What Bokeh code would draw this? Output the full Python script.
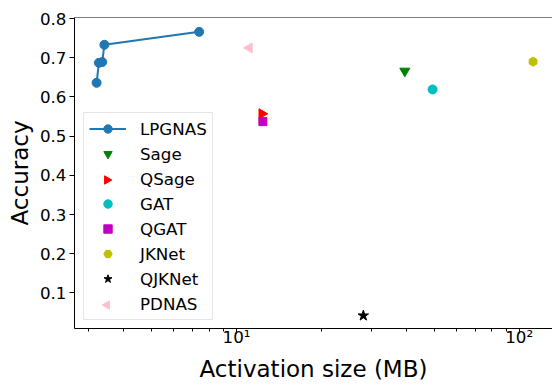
import math
from bokeh.plotting import figure
from bokeh.models import (Range1d, FixedTicker, CustomJSTickFormatter, Legend,
                          LegendItem, Span, ColumnDataSource, LinearScale)
from bokeh.embed import file_html
from bokeh.resources import INLINE

# ---- data ----
lpg_x = [3.20, 3.26, 3.35, 3.41, 7.38]
lpg_y = [0.636, 0.687, 0.689, 0.733, 0.766]

names = ["Sage", "QSage", "GAT", "QGAT", "JKNet", "QJKNet", "PDNAS"]
size_mb = [39.4, 12.3, 49.4, 12.4, 112.0, 28.1, 11.1]
accuracy = [0.666, 0.557, 0.619, 0.537, 0.690, 0.042, 0.725]

x_ticks = [10, 100]
x_minor = [3, 4, 5, 6, 7, 8, 9, 20, 30, 40, 50, 60, 70, 80, 90]
y_ticks = [0.1, 0.2, 0.3, 0.4, 0.5, 0.6, 0.7, 0.8]

# marker styles (matplotlib-like)
styles = {
    "Sage":   dict(marker="inverted_triangle", color="#008000", size=10, angle=0.0),
    "QSage":  dict(marker="triangle", color="#ff0000", size=10, angle=-math.pi / 2),
    "GAT":    dict(marker="circle", color="#00bfbf", size=9, angle=0.0),
    "QGAT":   dict(marker="square", color="#bf00bf", size=8, angle=0.0),
    "JKNet":  dict(marker="hex", color="#bfbf00", size=9, angle=math.pi / 2),
    "QJKNet": dict(marker="star", color="#000000", size=11, angle=0.0),
    "PDNAS":  dict(marker="triangle", color="#ffc0cb", size=10, angle=math.pi / 2),
}

FONT = "DejaVu Sans"
FRAME_W, FRAME_H = 478, 311

p = figure(width=552, height=384, output_backend="svg", toolbar_location=None,
           x_axis_type="log",
           x_range=Range1d(2.673, 131.2), y_range=Range1d(0.0092, 0.8026),
           min_border_left=74, min_border_right=0, min_border_top=17,
           min_border_bottom=56)
p.outline_line_color = None
p.background_fill_color = "white"
p.border_fill_color = "white"
p.grid.visible = False

# pixel-space ranges for the legend symbols that Bokeh's legend cannot rotate
p.extra_x_ranges = {"px": Range1d(0, FRAME_W)}
p.extra_y_ranges = {"px": Range1d(0, FRAME_H)}
p.extra_x_scales = {"px": LinearScale()}
p.extra_y_scales = {"px": LinearScale()}

# top spine
p.add_layout(Span(location=0.8026, dimension="width", line_color="black",
                  line_width=1))

# axes
xa = p.xaxis[0]
xa.ticker = FixedTicker(ticks=x_ticks, minor_ticks=x_minor)
xa.formatter = CustomJSTickFormatter(code="""
    const sup = {"0":"\u2070","1":"\u00b9","2":"\u00b2","3":"\u00b3","4":"\u2074",
                 "5":"\u2075","6":"\u2076","7":"\u2077","8":"\u2078","9":"\u2079","-":"\u207b"};
    const e = String(Math.round(Math.log10(tick)));
    return "10" + e.split("").map(c => sup[c]).join("");
""")
xa.axis_label = "Activation size (MB)"
ya = p.yaxis[0]
ya.ticker = FixedTicker(ticks=y_ticks, minor_ticks=[])
ya.axis_label = "Accuracy"

for ax in (xa, ya):
    ax.axis_line_color = "black"
    ax.axis_line_width = 1
    ax.major_tick_line_color = "black"
    ax.minor_tick_line_color = "black"
    ax.major_tick_out = 5
    ax.major_tick_in = 0
    ax.minor_tick_out = 3
    ax.minor_tick_in = 0
    ax.major_label_text_font = FONT
    ax.major_label_text_font_size = "16.7px"
    ax.major_label_text_color = "black"
    ax.axis_label_text_font = FONT
    ax.axis_label_text_font_size = "23px"
    ax.axis_label_text_font_style = "normal"
    ax.axis_label_text_color = "black"
xa.major_label_standoff = -7
xa.axis_label_standoff = 6
ya.major_label_standoff = 3
ya.axis_label_standoff = 4

# LPGNAS line + markers
items = []
lpg_src = ColumnDataSource(dict(x=lpg_x, y=lpg_y))
l1 = p.line("x", "y", source=lpg_src, line_color="#1f77b4", line_width=2)
l2 = p.scatter("x", "y", source=lpg_src, marker="circle", size=9,
               fill_color="#1f77b4", line_color="#1f77b4")
items.append(LegendItem(label="LPGNAS", renderers=[l1, l2]))

# legend geometry
LEG_X, LEG_Y = 9, 8
PAD, GW, GH, SP = 5, 37, 21, 4
n_items = 1 + len(names)
leg_h = 2 * PAD + n_items * GH + (n_items - 1) * SP

sym_x, sym_y, sym_marker, sym_color, sym_angle = [], [], [], [], []
for i, (name, xv, yv) in enumerate(zip(names, size_mb, accuracy), start=1):
    st = styles[name]
    src = ColumnDataSource(dict(x=[xv], y=[yv], angle=[st["angle"]]))
    r = p.scatter("x", "y", source=src, marker=st["marker"], size=st["size"],
                  angle="angle", fill_color=st["color"], line_color=st["color"])
    if st["angle"] != 0.0 and st["marker"] == "triangle":
        # invisible stand-in for the legend; real rotated symbol drawn on top
        dummy = p.scatter(x=[], y=[], marker="circle", size=0,
                          fill_alpha=0, line_alpha=0)
        items.append(LegendItem(label=name, renderers=[dummy]))
        sym_x.append(LEG_X + PAD + GW / 2)
        sym_y.append(LEG_Y + leg_h - PAD - GH / 2 - i * (GH + SP))
        sym_marker.append(st["marker"])
        sym_color.append(st["color"])
        sym_angle.append(st["angle"])
    else:
        items.append(LegendItem(label=name, renderers=[r]))

legend = Legend(items=items, location=(LEG_X, LEG_Y))
legend.label_text_font = FONT
legend.label_text_font_size = "16.7px"
legend.label_text_color = "black"
legend.glyph_width = GW
legend.glyph_height = GH
legend.label_height = GH
legend.label_standoff = 14
legend.spacing = SP
legend.padding = PAD
legend.margin = 0
legend.border_line_color = "#cccccc"
legend.border_line_width = 1
legend.background_fill_color = None
p.add_layout(legend, "center")

sym_src = ColumnDataSource(dict(x=sym_x, y=sym_y, marker=sym_marker,
                                color=sym_color, angle=sym_angle))
sym = p.scatter("x", "y", source=sym_src, marker="marker", size=8.4,
                angle="angle", fill_color="color", line_color="color",
                x_range_name="px", y_range_name="px")

open("out.html", "w").write(file_html(p, INLINE))
